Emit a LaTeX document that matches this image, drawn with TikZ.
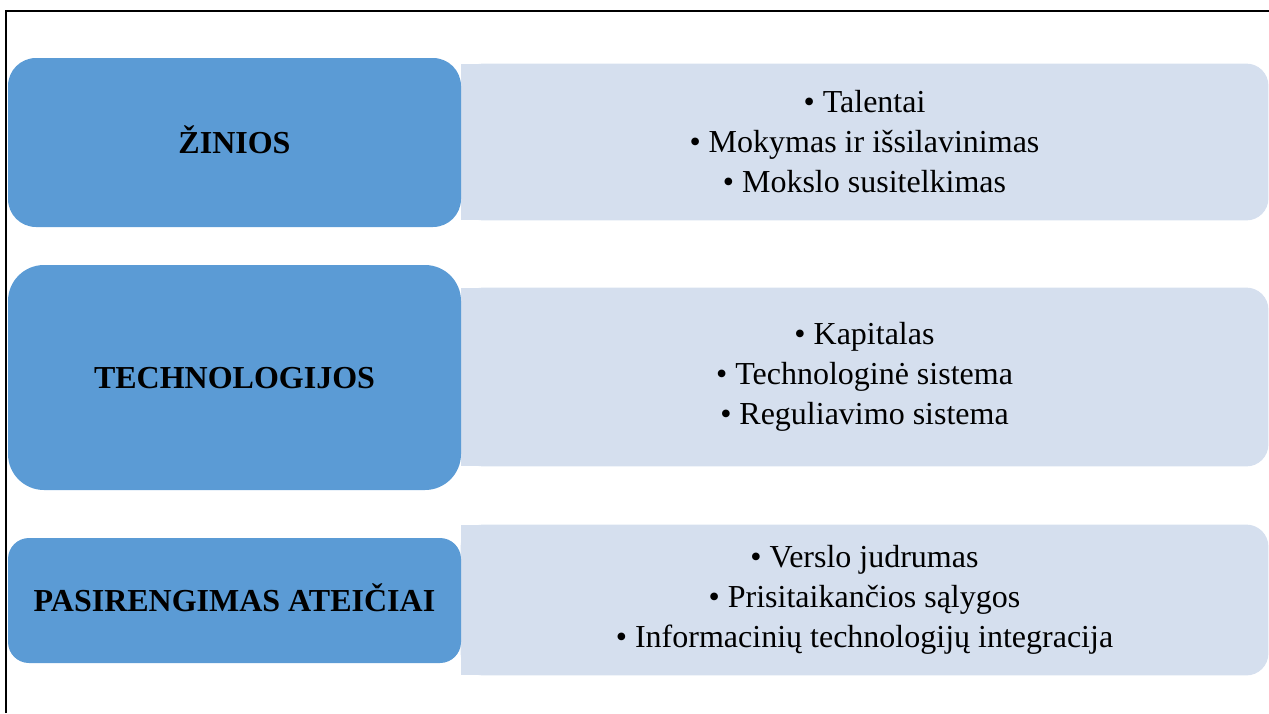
\documentclass[tikz,border=0pt]{standalone}
\usepackage{fontspec}
\setmainfont{Liberation Serif}
\usetikzlibrary{backgrounds}
\definecolor{catblue}{HTML}{5B9BD5}
\definecolor{itemfill}{HTML}{D5DFEE}

\begin{document}
\begin{tikzpicture}[x=0.5pt,y=-0.5pt,
	cat/.style={fill=catblue, inner sep=0pt, minimum width=226.5pt, text height=10.6pt, text depth=0pt, align=center, font=\fontsize{16}{20}\selectfont\bfseries},
	items/.style={inner sep=0pt, minimum width=403.5pt, align=center, font=\fontsize{16}{20}\selectfont}]
	\useasboundingbox (0,0) rectangle (1269,713);
	\draw[line width=1pt] (6,713) -- (6,11) -- (1269,11);
	\node[items, minimum height=78pt] (kz) at (864.5,142) {\textbullet{} Talentai\\ \textbullet{} Mokymas ir išsilavinimas\\ \textbullet{} Mokslo susitelkimas};
	\node[items, minimum height=89pt] (kt) at (864.5,377) {\textbullet{} Kapitalas\\ \textbullet{} Technologinė sistema\\ \textbullet{} Reguliavimo sistema};
	\node[items, minimum height=75pt] (kp) at (864.5,600) {\textbullet{} Verslo judrumas\\ \textbullet{} Prisitaikančios sąlygos\\ \textbullet{} Informacinių technologijų integracija};
	\begin{scope}[on background layer]
		\foreach \k in {kz,kt,kp} {
			\fill[itemfill, rounded corners=11pt] (\k.north west) rectangle (\k.south east);
			\fill[itemfill] (\k.north west) rectangle (\k.south);
		}
	\end{scope}
	\node[cat, rounded corners=14pt, minimum height=84.5pt] (zinios) at (234.5,142.5) {ŽINIOS};
	\node[cat, rounded corners=18pt, minimum height=112.5pt] (technologijos) at (234.5,377.5) {TECHNOLOGIJOS};
	\node[cat, rounded corners=10.5pt, minimum height=62.5pt] (pasirengimas) at (234.5,600.5) {PASIRENGIMAS ATEIČIAI};
\end{tikzpicture}
\end{document}
